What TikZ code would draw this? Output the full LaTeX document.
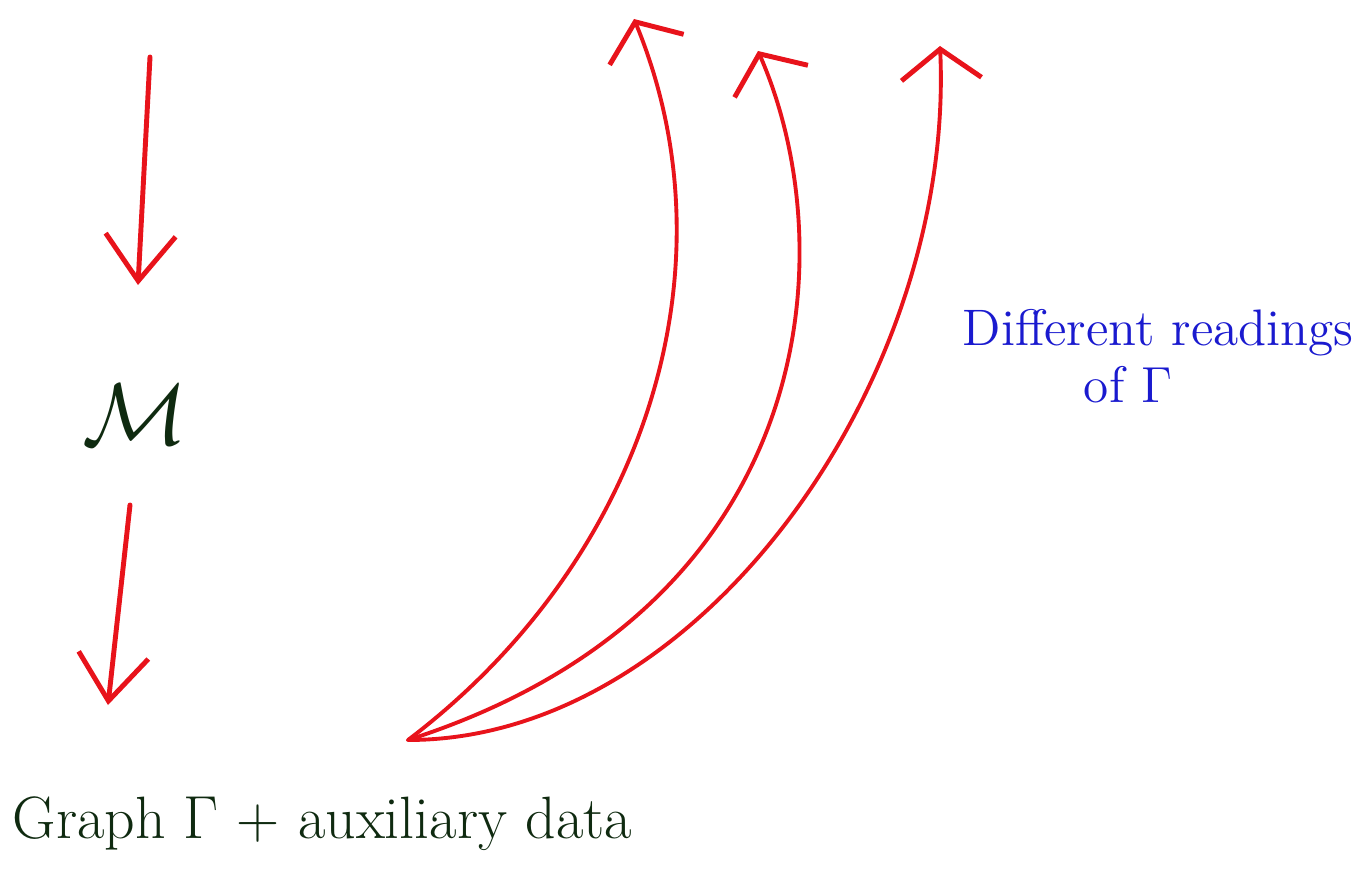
\documentclass[tikz,border=0pt]{standalone}
\usetikzlibrary{arrows.meta}
\definecolor{penred}{HTML}{E8131B}
\definecolor{pengreen}{HTML}{0F2A10}
\definecolor{penblue}{HTML}{1A1ACF}
\tikzset{
  straightarrow/.style={draw=penred, line width=1.4pt, line cap=round, line join=round,
    -{Straight Barb[length=4.6mm,width=7mm,line width=1.4pt]}},
  curvearrow/.style={draw=penred, line width=1.1pt, line cap=round, line join=round,
    -{Straight Barb[length=3mm,width=8mm,line width=1.4pt]}},
  greentext/.style={text=pengreen, inner sep=0pt},
  bluetext/.style={text=penblue, inner sep=0pt},
}
\begin{document}
\begin{tikzpicture}[x=0.01cm, y=-0.01cm]
  \useasboundingbox (0,0) rectangle (1361,870);
  \fill[white] (0,0) rectangle (1361,870);

  % nodes
  \node[greentext] (M) at (135,415) {\fontsize{30}{34}\selectfont $\mathcal{M}$};
  \node[greentext, anchor=base west] (G) at (12,838)
    {\fontsize{17}{21}\selectfont Graph $\Gamma$ + auxiliary data};
  \node[bluetext, anchor=base west] (D1) at (962,345)
    {\fontsize{14.6}{18}\selectfont Different readings};
  \node[bluetext, anchor=base] (D2) at (1128,402)
    {\fontsize{14.6}{18}\selectfont of $\Gamma$};

  % coordinates
  \coordinate (t1) at (150,57);
  \coordinate (h1) at (138,285);
  \coordinate (t2) at (130,505);
  \coordinate (h2) at (108,705);
  \coordinate (src) at (408,740);
  \coordinate (e1) at (634,19);
  \coordinate (e2) at (758,51);
  \coordinate (e3) at (940,46);

  % straight arrows
  \draw[straightarrow] (t1) -- (h1);
  \draw[straightarrow] (t2) -- (h2);

  % curved arrows
  \draw[curvearrow] (src) .. controls (643,562) and (738,271) .. (e1);
  \draw[curvearrow] (src) .. controls (820,608) and (845,250) .. (e2);
  \draw[curvearrow] (src) .. controls (700,740) and (955,380) .. (e3);
\end{tikzpicture}
\end{document}
